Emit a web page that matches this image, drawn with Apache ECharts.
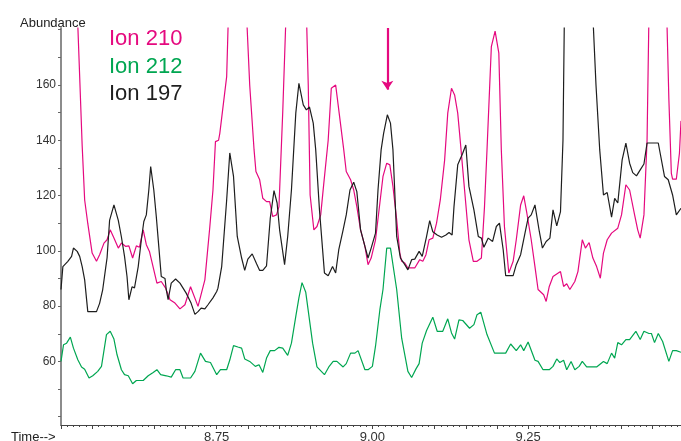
<!DOCTYPE html>
<html><head><meta charset="utf-8">
<script src="https://cdn.jsdelivr.net/npm/echarts@6/dist/echarts.min.js"></script>
<style>html,body{margin:0;padding:0;background:#fff}#c{width:681px;height:441px}</style>
</head><body><div id="c"></div>
<script>
// Ion 210 (magenta)
const times210 = [8.500,8.524,8.530,8.534,8.538,8.543,8.550,8.557,8.562,8.569,8.574,8.579,8.585,8.592,8.597,8.604,8.609,8.615,8.621,8.626,8.632,8.637,8.642,8.649,8.654,8.661,8.668,8.675,8.683,8.691,8.699,8.708,8.720,8.731,8.739,8.744,8.748,8.753,8.755,8.766,8.770,8.784,8.797,8.803,8.810,8.813,8.819,8.824,8.830,8.835,8.840,8.846,8.850,8.856,8.862,8.877,8.893,8.897,8.900,8.906,8.911,8.917,8.922,8.929,8.934,8.941,8.946,8.954,8.958,8.965,8.970,8.975,8.981,8.988,8.993,8.998,9.005,9.012,9.017,9.023,9.028,9.033,9.039,9.044,9.047,9.052,9.057,9.068,9.076,9.081,9.086,9.091,9.097,9.103,9.109,9.116,9.121,9.127,9.132,9.137,9.140,9.148,9.155,9.162,9.168,9.175,9.180,9.184,9.191,9.197,9.203,9.207,9.212,9.219,9.226,9.231,9.238,9.243,9.248,9.255,9.261,9.266,9.269,9.275,9.279,9.284,9.290,9.302,9.307,9.312,9.317,9.325,9.330,9.337,9.342,9.348,9.354,9.360,9.366,9.371,9.377,9.384,9.394,9.400,9.407,9.413,9.421,9.426,9.430,9.436,9.441,9.445,9.458,9.471,9.476,9.480,9.482,9.488,9.493,9.4955];
const ion210 = [250,200,163,138,118.4,109.9,99.2,96.2,98.6,102.8,104,107.6,104.6,101,102.8,101.6,101.8,97.4,101.8,101.3,107.6,102.2,99.8,93.1,88.3,88.9,86.5,82.3,81.1,79,80.5,87,79.9,89.5,108.8,122,139.5,140,142.5,163,195,240,190,160,136.5,128.7,125.7,119,117.8,117.8,112.4,113,116,150,190,250,195,160,120.2,107.6,108.8,113,124.5,140,158.8,160,151,136.5,128.7,125.7,122,116,107.6,101.6,95,97.4,104,117.3,126.9,131.7,131.1,123.3,111.2,99.2,96.2,95.6,93.8,93.8,96.8,96.2,98.6,104,104.6,110,118.4,132.9,149.8,158.8,156.4,149.8,142.5,122,104,96.2,96.2,97.4,116,136.5,173.9,179.5,171.5,136.5,108.8,92,96.2,104,116.6,119.9,113.6,104,94.3,86,85.3,84.1,81.7,87.1,90.7,92.5,87.1,88.1,86,88.9,92.5,104,101,103,97.4,94.3,90.1,99.2,104,106.4,108.2,113,123.9,122,113,107.6,104.6,113,140,200,240,200,155,128,125.9,125.9,135.3,147];

// Ion 212 (green)
const times212 = [8.500,8.504,8.509,8.515,8.520,8.527,8.533,8.538,8.545,8.551,8.559,8.565,8.573,8.579,8.585,8.590,8.597,8.602,8.608,8.615,8.621,8.632,8.640,8.648,8.654,8.660,8.669,8.677,8.684,8.691,8.696,8.708,8.715,8.724,8.732,8.740,8.750,8.756,8.766,8.771,8.777,8.784,8.790,8.795,8.803,8.812,8.818,8.824,8.830,8.836,8.843,8.850,8.856,8.864,8.870,8.877,8.882,8.887,8.893,8.904,8.911,8.923,8.930,8.937,8.943,8.953,8.958,8.965,8.972,8.977,8.988,8.993,9.000,9.005,9.012,9.017,9.023,9.029,9.039,9.047,9.057,9.063,9.070,9.075,9.080,9.087,9.097,9.104,9.113,9.121,9.127,9.132,9.139,9.145,9.156,9.163,9.168,9.174,9.184,9.196,9.214,9.222,9.225,9.231,9.238,9.243,9.250,9.261,9.266,9.274,9.284,9.290,9.296,9.301,9.307,9.312,9.319,9.325,9.332,9.337,9.344,9.360,9.371,9.377,9.384,9.389,9.394,9.400,9.407,9.413,9.423,9.430,9.436,9.444,9.448,9.453,9.459,9.466,9.476,9.482,9.488,9.4955];
const ion212 = [60,66,66.6,68.8,64.8,60.6,58,57.2,54,54.8,56.4,58.2,69.7,70.9,68.1,62.4,57,55.2,54.8,51.9,53.1,53.1,54.8,56,57,55.2,54.8,54.3,57,57,54,54,56.4,63,60,59.6,55.2,57,57,60.5,65.7,65.2,64.8,60.9,60,58.2,58.8,56,61.2,63.9,63.9,65.1,64.8,62.2,66.6,76.3,83,88.5,85,66.6,58,55.2,58,60,60,58,59.2,63,63,63.9,57,57,58.2,65.5,78.7,86,101,101,86,68.4,56.4,54.2,57.3,59.2,66.6,71.2,76,70.9,70.9,75.4,70.3,68.1,75,74.8,72,73.3,76.9,77.8,69.7,63,63,66.3,66.8,63.9,66,63.9,67,60.4,60,57,57,58.2,60.9,59.6,60.4,57,60,57,58.2,60,58,58,60,59.2,63,61.2,66.8,66,67.9,67.9,70.9,67.9,70.9,70.1,70.1,66.8,70.1,67.2,60,63.9,63.9,63.3];

// Ion 197 (black)
const times197 = [8.500,8.503,8.511,8.517,8.520,8.526,8.530,8.534,8.538,8.543,8.557,8.562,8.567,8.572,8.574,8.578,8.585,8.592,8.597,8.602,8.606,8.609,8.613,8.614,8.618,8.624,8.629,8.633,8.637,8.641,8.644,8.649,8.653,8.657,8.661,8.667,8.669,8.672,8.677,8.684,8.691,8.701,8.709,8.715,8.720,8.725,8.731,8.736,8.744,8.750,8.752,8.758,8.766,8.771,8.777,8.783,8.790,8.795,8.800,8.807,8.814,8.819,8.824,8.830,8.836,8.842,8.847,8.851,8.859,8.864,8.870,8.877,8.882,8.889,8.894,8.899,8.905,8.909,8.915,8.923,8.929,8.936,8.941,8.946,8.953,8.958,8.964,8.970,8.975,8.981,8.988,8.993,8.998,9.005,9.009,9.014,9.018,9.024,9.029,9.033,9.039,9.045,9.052,9.057,9.063,9.068,9.075,9.080,9.087,9.092,9.097,9.104,9.111,9.118,9.123,9.128,9.131,9.137,9.145,9.150,9.155,9.163,9.170,9.175,9.179,9.186,9.193,9.199,9.204,9.210,9.214,9.226,9.231,9.238,9.245,9.250,9.255,9.261,9.268,9.273,9.279,9.285,9.290,9.296,9.302,9.306,9.309,9.330,9.352,9.359,9.365,9.371,9.377,9.384,9.389,9.394,9.401,9.407,9.413,9.418,9.424,9.430,9.436,9.441,9.459,9.469,9.475,9.482,9.488,9.4955];
const ion197 = [86,94.3,96.2,98,101,99.8,98,94.3,89.5,78,78,81,86,94.3,97.5,111,116.6,111,105,98,90.7,82.3,86,87,86.6,94.3,104,110.6,113,122,130.5,122,112.4,101.6,90.7,90,86,82.3,88.3,89.8,88.3,84.7,81,77,78,79.3,79,80.5,83,85.3,86.5,94.3,118.4,135.4,126.9,105.2,97.4,92.9,97,98.9,95.3,92.9,92.9,94.6,111.8,121.8,117.3,107.6,95,105.2,122,149.8,160.6,152.8,151,152,146.2,136.5,114.8,92,91,94.3,92,100.4,107.6,113,122,124.8,121.4,107.6,101.6,97.4,101,106.4,122,136.5,142.5,149.2,146.2,136.5,105.2,97.4,95,93.1,96.8,97,99.8,98,105.2,110.9,106.9,105.7,104.9,105.7,106.6,105.7,116,131.1,135.3,138.3,123.3,114.8,105.2,104.6,101.3,104.6,103.4,108.8,110,100.4,91,91,95,98.6,106.4,111.8,113,116.6,107,101,103.4,104.6,114.8,109,114.2,140,200,260,195,160,136.5,120.2,121.1,112.2,119,117.3,132.9,139,131.7,128.3,127.1,129.3,131.4,139,139,126.9,125.7,120.2,113,115.4];

const xLabels = [8.75, 9.00, 9.25];
const yLabels = [60, 80, 100, 120, 140, 160];
const yTicks = [40, 50, 60, 70, 80, 90, 100, 110, 120, 130, 140, 150, 160, 170, 180];
const legendNames = ['Ion 210', 'Ion 212', 'Ion 197'];
const arrowTime = 9.024;
const arrowFrom = 180.6, arrowTo = 158.3;

const C210 = '#e5097f', C212 = '#00a651', C197 = '#1e1e1e';
const pairs = (t, v) => t.map((x, i) => [x, v[i]]);
const font = 'Liberation Sans, Arial, sans-serif';

const chart = echarts.init(document.getElementById('c'), null, {renderer: 'canvas'});
chart.setOption({
  animation: false,
  backgroundColor: '#fff',
  grid: {left: 61, right: 0, top: 28, bottom: 16, containLabel: false, outerBoundsMode: 'none'},
  xAxis: {
    type: 'value', min: 8.5, max: 9.4955, interval: 0.05,
    axisLine: {show: true, lineStyle: {color: '#444', width: 1}},
    axisTick: {show: true, length: 4, lineStyle: {color: '#444'}},
    minorTick: {show: true, splitNumber: 5, length: 2, lineStyle: {color: '#444'}},
    axisLabel: {customValues: xLabels, formatter: v => Number(v).toFixed(2), fontSize: 13, color: '#333', margin: 5.5, fontFamily: font},
    splitLine: {show: false}, minorSplitLine: {show: false}
  },
  yAxis: {
    type: 'value', min: 37, max: 180.6,
    axisLine: {show: true, lineStyle: {color: '#8c8c8c', width: 2}},
    axisTick: {show: true, customValues: yTicks, length: 3, lineStyle: {color: '#666'}},
    axisLabel: {customValues: yLabels, fontSize: 12, color: '#333', margin: 5, fontFamily: font},
    splitLine: {show: false}
  },
  series: [
    {name: legendNames[0], type: 'line', data: pairs(times210, ion210), showSymbol: false, clip: true,
     lineStyle: {color: C210, width: 1.2}, itemStyle: {color: C210}, silent: true,
     markLine: {silent: true, symbol: ['none', 'arrow'], symbolSize: 9, animation: false,
       label: {show: false}, emphasis: {disabled: true},
       lineStyle: {color: C210, width: 2.2, type: 'solid'},
       data: [[{coord: [arrowTime, arrowFrom]}, {coord: [arrowTime, arrowTo]}]]}},
    {name: legendNames[1], type: 'line', data: pairs(times212, ion212), showSymbol: false, clip: true,
     lineStyle: {color: C212, width: 1.2}, itemStyle: {color: C212}, silent: true},
    {name: legendNames[2], type: 'line', data: pairs(times197, ion197), showSymbol: false, clip: true,
     lineStyle: {color: C197, width: 1.2}, itemStyle: {color: C197}, silent: true}
  ],
  graphic: [
    {type: 'text', left: 20, top: 17, style: {text: 'Abundance', fontSize: 13, fill: '#222', fontFamily: font}},
    {type: 'text', left: 11, top: 430.5, style: {text: 'Time-->', fontSize: 13, fill: '#222', fontFamily: font}},
    {type: 'text', left: 109, top: 28, style: {text: legendNames[0], fontSize: 22, fill: C210, fontFamily: font}},
    {type: 'text', left: 109, top: 55.5, style: {text: legendNames[1], fontSize: 22, fill: C212, fontFamily: font}},
    {type: 'text', left: 109, top: 83, style: {text: legendNames[2], fontSize: 22, fill: C197, fontFamily: font}}
  ]
});
</script></body></html>
